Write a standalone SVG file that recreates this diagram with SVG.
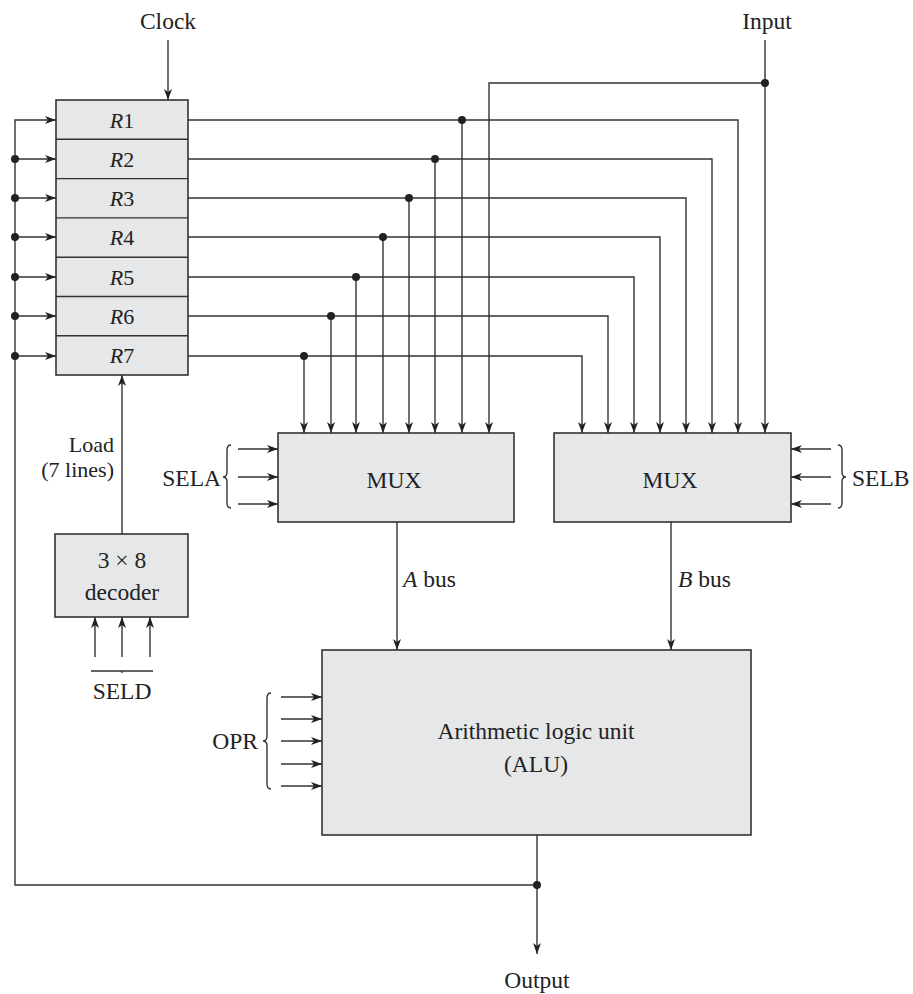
<svg xmlns="http://www.w3.org/2000/svg" width="913" height="994" viewBox="0 0 913 994">
<style>
.box{fill:#e6e7e9;stroke:#333;stroke-width:1.6}
.ln{fill:none;stroke:#333;stroke-width:1.4}
.ar{fill:none;stroke:#333;stroke-width:1.4;marker-end:url(#ah)}
.dot{fill:#222}
text{font-family:"Liberation Serif","DejaVu Serif",serif;font-size:23.5px;fill:#222}
.c{text-anchor:middle}
.e{text-anchor:end}
.r{font-size:22px}
.s{font-size:22px}
</style>
<defs>
<marker id="ah" markerUnits="userSpaceOnUse" markerWidth="12" markerHeight="8" refX="11" refY="4" orient="auto">
<path d="M0,0 L11,4 L0,8 L3,4 z" fill="#222"/>
</marker>
</defs>
<rect width="913" height="994" fill="#fff"/>

<g id="registers">
<rect class="box" x="56" y="100" width="132" height="275"/>
<path class="ln" d="M56,139.3H188M56,178.6H188M56,217.9H188M56,257.2H188M56,296.5H188M56,335.8H188"/>
<text class="c r" x="122" y="128"><tspan font-style="italic">R</tspan>1</text>
<text class="c r" x="122" y="167"><tspan font-style="italic">R</tspan>2</text>
<text class="c r" x="122" y="206"><tspan font-style="italic">R</tspan>3</text>
<text class="c r" x="122" y="245"><tspan font-style="italic">R</tspan>4</text>
<text class="c r" x="122" y="285"><tspan font-style="italic">R</tspan>5</text>
<text class="c r" x="122" y="324"><tspan font-style="italic">R</tspan>6</text>
<text class="c r" x="122" y="363"><tspan font-style="italic">R</tspan>7</text>
</g>

<g id="muxA">
<rect class="box" x="278" y="433" width="236" height="89"/>
<text class="c" x="394" y="488">MUX</text>
</g>
<g id="muxB">
<rect class="box" x="554" y="433" width="237" height="89"/>
<text class="c" x="670" y="488">MUX</text>
</g>
<g id="decoder">
<rect class="box" x="55" y="534" width="133" height="83"/>
<text class="c" x="122" y="568">3 × 8</text>
<text class="c" x="122" y="600">decoder</text>
</g>
<g id="alu">
<rect class="box" x="322" y="650" width="429" height="185"/>
<text class="c" x="536" y="739">Arithmetic logic unit</text>
<text class="c" x="536" y="772">(ALU)</text>
</g>

<g id="connectors">
<path class="ar" d="M168,40V100"/>
<path class="ar" d="M765,40V433"/>
<path class="ar" d="M765,83H489V433"/>
<path class="ar" d="M188,120H738V433"/>
<path class="ar" d="M188,159H712V433"/>
<path class="ar" d="M188,198H686V433"/>
<path class="ar" d="M188,237H660V433"/>
<path class="ar" d="M188,277H634V433"/>
<path class="ar" d="M188,316H608V433"/>
<path class="ar" d="M188,356H582V433"/>
<path class="ar" d="M462,120V433"/>
<path class="ar" d="M435,159V433"/>
<path class="ar" d="M409,198V433"/>
<path class="ar" d="M383,237V433"/>
<path class="ar" d="M356,277V433"/>
<path class="ar" d="M331,316V433"/>
<path class="ar" d="M304,356V433"/>
<circle class="dot" cx="765" cy="83" r="4"/>
<circle class="dot" cx="462" cy="120" r="4"/>
<circle class="dot" cx="435" cy="159" r="4"/>
<circle class="dot" cx="409" cy="198" r="4"/>
<circle class="dot" cx="383" cy="237" r="4"/>
<circle class="dot" cx="356" cy="277" r="4"/>
<circle class="dot" cx="331" cy="316" r="4"/>
<circle class="dot" cx="304" cy="356" r="4"/>

<path class="ar" d="M537,835V954"/>
<path class="ar" d="M537,885H15V120H56"/>
<path class="ar" d="M15,159H56"/>
<path class="ar" d="M15,198H56"/>
<path class="ar" d="M15,237H56"/>
<path class="ar" d="M15,277H56"/>
<path class="ar" d="M15,316H56"/>
<path class="ar" d="M15,356H56"/>
<circle class="dot" cx="537" cy="885" r="4"/>
<circle class="dot" cx="15" cy="159" r="4"/>
<circle class="dot" cx="15" cy="198" r="4"/>
<circle class="dot" cx="15" cy="237" r="4"/>
<circle class="dot" cx="15" cy="277" r="4"/>
<circle class="dot" cx="15" cy="316" r="4"/>
<circle class="dot" cx="15" cy="356" r="4"/>

<path class="ar" d="M122,534V375"/>
<path class="ar" d="M95,657V617"/>
<path class="ar" d="M122,657V617"/>
<path class="ar" d="M150,657V617"/>
<path class="ln" d="M91,671H153M122,671V673"/>

<path class="ar" d="M397,522V650"/>
<path class="ar" d="M671,522V650"/>

<path class="ar" d="M238,449H278"/>
<path class="ar" d="M238,477H278"/>
<path class="ar" d="M238,504H278"/>
<path class="ar" d="M831,449H791"/>
<path class="ar" d="M831,477H791"/>
<path class="ar" d="M831,504H791"/>

<path class="ar" d="M281,697H322"/>
<path class="ar" d="M281,719H322"/>
<path class="ar" d="M281,741H322"/>
<path class="ar" d="M281,764H322"/>
<path class="ar" d="M281,786H322"/>

<path class="ln" stroke-width="1.2" d="M231,445Q227,445 227,450V472Q227,477 223,477Q227,477 227,482V503Q227,508 231,508"/>
<path class="ln" stroke-width="1.2" d="M838,445Q842,445 842,450V472Q842,477 846,477Q842,477 842,482V503Q842,508 838,508"/>
<path class="ln" stroke-width="1.2" d="M271,693Q267,693 267,698V736Q267,741 263,741Q267,741 267,746V784Q267,789 271,789"/>
</g>

<g id="labels">
<text class="c" x="168" y="29">Clock</text>
<text class="c" x="767" y="29">Input</text>
<text class="e s" x="114" y="452">Load</text>
<text class="e s" x="114" y="477">(7 lines)</text>
<text class="e" x="221" y="486">SELA</text>
<text x="852" y="486">SELB</text>
<text x="403" y="587"><tspan font-style="italic">A</tspan> bus</text>
<text x="678" y="587"><tspan font-style="italic">B</tspan> bus</text>
<text class="c" x="122" y="699">SELD</text>
<text class="e" x="258" y="749">OPR</text>
<text class="c" x="537" y="988">Output</text>
</g>
</svg>
